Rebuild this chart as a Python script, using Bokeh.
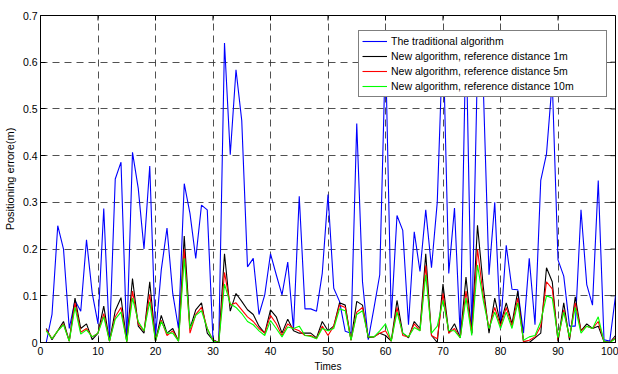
from bokeh.plotting import figure
from bokeh.models import Legend, LegendItem, FixedTicker
from bokeh.embed import file_html
from bokeh.resources import INLINE

times = list(range(1, 101))
traditional = [0.0,0.06,0.25,0.20,0.03,0.09,0.067,0.22,0.105,0.04,
    0.287,0.006,0.35,0.386,0.006,0.407,0.33,0.20,0.378,0.013,
    0.155,0.245,0.105,0.03,0.34,0.276,0.18,0.294,0.284,0.006,
    0.0,0.641,0.402,0.584,0.475,0.162,0.18,0.06,0.102,0.19,
    0.145,0.102,0.172,0.028,0.313,0.072,0.072,0.067,0.148,0.317,
    0.116,0.088,0.024,0.02,0.469,0.13,0.006,0.074,0.145,0.63,
    0.052,0.272,0.24,0.038,0.237,0.152,0.284,0.16,0.30,0.66,
    0.148,0.288,0.013,0.666,0.02,0.6,0.55,0.145,0.30,0.03,
    0.208,0.114,0.113,0.02,0.18,0.038,0.347,0.404,0.56,0.177,
    0.142,0.035,0.035,0.284,0.124,0.08,0.347,0.006,0.003,0.1]
new_1m = [0.03,0.006,0.025,0.045,0.003,0.095,0.03,0.04,0.006,0.02,
    0.078,0.003,0.068,0.096,0.002,0.137,0.035,0.02,0.13,0.003,
    0.058,0.02,0.03,0.003,0.228,0.03,0.07,0.085,0.02,0.005,
    0.0,0.19,0.067,0.105,0.088,0.07,0.06,0.035,0.02,0.07,
    0.055,0.02,0.05,0.025,0.02,0.02,0.02,0.01,0.045,0.025,
    0.035,0.085,0.08,0.005,0.088,0.08,0.01,0.012,0.02,0.015,
    0.003,0.09,0.02,0.01,0.045,0.03,0.19,0.015,0.0,0.125,
    0.02,0.04,0.01,0.14,0.02,0.251,0.12,0.02,0.095,0.04,
    0.085,0.04,0.11,0.002,0.0,0.01,0.02,0.16,0.13,0.002,
    0.085,0.005,0.098,0.025,0.04,0.03,0.035,0.002,0.0,0.015]
new_5m = [0.028,0.008,0.025,0.04,0.003,0.085,0.022,0.03,0.012,0.02,
    0.062,0.003,0.055,0.075,0.002,0.11,0.04,0.025,0.103,0.003,
    0.048,0.015,0.025,0.003,0.2,0.02,0.06,0.075,0.03,0.005,
    0.0,0.15,0.08,0.085,0.07,0.055,0.045,0.03,0.02,0.058,
    0.04,0.015,0.04,0.03,0.025,0.015,0.015,0.008,0.035,0.015,
    0.035,0.08,0.075,0.005,0.065,0.075,0.012,0.012,0.02,0.025,
    0.003,0.075,0.015,0.012,0.04,0.025,0.165,0.015,0.008,0.105,
    0.02,0.03,0.01,0.11,0.02,0.2,0.1,0.03,0.075,0.035,
    0.075,0.035,0.095,0.002,0.005,0.012,0.035,0.13,0.115,0.005,
    0.07,0.01,0.085,0.025,0.035,0.03,0.045,0.002,0.0,0.01]
new_10m = [0.025,0.008,0.025,0.038,0.003,0.075,0.018,0.027,0.012,0.02,
    0.055,0.003,0.05,0.065,0.002,0.095,0.045,0.025,0.087,0.003,
    0.045,0.02,0.02,0.003,0.18,0.03,0.058,0.068,0.03,0.003,
    0.0,0.125,0.083,0.075,0.062,0.045,0.038,0.025,0.015,0.047,
    0.03,0.012,0.033,0.03,0.035,0.015,0.013,0.008,0.03,0.025,
    0.03,0.072,0.068,0.005,0.06,0.068,0.012,0.012,0.025,0.04,
    0.003,0.065,0.02,0.012,0.032,0.025,0.145,0.02,0.035,0.09,
    0.025,0.025,0.01,0.095,0.015,0.166,0.09,0.03,0.065,0.03,
    0.065,0.03,0.085,0.005,0.012,0.015,0.045,0.1,0.095,0.01,
    0.065,0.012,0.075,0.02,0.035,0.03,0.055,0.002,0.0,0.008]

x_ticks = [0, 10, 20, 30, 40, 50, 60, 70, 80, 90, 100]
y_ticks = [0, 0.1, 0.2, 0.3, 0.4, 0.5, 0.6, 0.7]
labels = ["The traditional algorithm",
          "New algorithm, reference distance 1m",
          "New algorithm, reference distance 5m",
          "New algorithm, reference distance 10m"]
x_title = "Times"
y_title = "Positioning errore(m)"

FONT = "Liberation Sans"
X0, X1, Y0, Y1 = 0, 100, 0, 0.7
FRAME_W, FRAME_H = 577, 328
TICK = 5

p = figure(width=618, height=374, x_range=(X0, X1), y_range=(Y0, Y1),
           output_backend="svg", toolbar_location=None,
           min_border_left=38, min_border_right=3, min_border_top=15,
           min_border_bottom=31)
p.background_fill_color = "white"
p.border_fill_color = "white"
p.outline_line_color = "black"
p.outline_line_width = 1

xa = p.xaxis[0]
ya = p.yaxis[0]
xa.ticker = FixedTicker(ticks=x_ticks)
ya.ticker = FixedTicker(ticks=y_ticks)
ya.major_label_overrides = {0: "0"}
for ax in (xa, ya):
    ax.major_tick_in = TICK
    ax.major_tick_out = 0
    ax.minor_tick_line_color = None
    ax.axis_line_color = "black"
    ax.major_tick_line_color = "black"
    ax.major_label_text_font = FONT
    ax.major_label_text_font_size = "10.5px"
    ax.major_label_text_color = "black"
    ax.axis_label_text_font = FONT
    ax.axis_label_text_font_style = "normal"
    ax.axis_label_text_color = "black"
ya.axis_label = y_title
ya.axis_label_text_font_size = "11px"
ya.major_label_standoff = 3
ya.axis_label_standoff = 4
xa.axis_label = x_title
xa.axis_label_text_font_size = "10px"
xa.major_label_standoff = 4
xa.axis_label_standoff = 3

# tick marks on the top and right edges of the box
dy = TICK * (Y1 - Y0) / FRAME_H
dx = TICK * (X1 - X0) / FRAME_W
p.segment(x0=x_ticks, y0=[Y1] * len(x_ticks), x1=x_ticks, y1=[Y1 - dy] * len(x_ticks),
          line_color="black", line_width=1)
p.segment(x0=[X1] * len(y_ticks), y0=y_ticks, x1=[X1 - dx] * len(y_ticks), y1=y_ticks,
          line_color="black", line_width=1)

for g in (p.xgrid[0], p.ygrid[0]):
    g.grid_line_color = "#333333"
    g.grid_line_alpha = 0.85
    g.grid_line_dash = "7 5"
    g.grid_line_width = 1
p.xgrid[0].ticker = FixedTicker(ticks=x_ticks)
p.ygrid[0].ticker = FixedTicker(ticks=y_ticks)

r0 = p.line(times, traditional, line_color="#0000ff", line_width=1.1)
r1 = p.line(times, new_1m, line_color="#000000", line_width=1.1)
r2 = p.line(times, new_5m, line_color="#ff0000", line_width=1.1)
r3 = p.line(times, new_10m, line_color="#00ff00", line_width=1.1)

legend = Legend(items=[LegendItem(label=labels[0], renderers=[r0]),
                       LegendItem(label=labels[1], renderers=[r1]),
                       LegendItem(label=labels[2], renderers=[r2]),
                       LegendItem(label=labels[3], renderers=[r3])],
                location=(318, 245))
legend.label_text_font = FONT
legend.label_text_font_size = "10.5px"
legend.label_text_color = "black"
legend.glyph_width = 25
legend.glyph_height = 14
legend.label_height = 14
legend.label_width = 212
legend.label_standoff = 4
legend.spacing = 1
legend.padding = 3
legend.margin = 0
legend.border_line_color = "black"
legend.border_line_width = 1
legend.background_fill_color = "white"
legend.background_fill_alpha = 1
p.add_layout(legend, "center")

open("out.html", "w").write(file_html(p, INLINE))
